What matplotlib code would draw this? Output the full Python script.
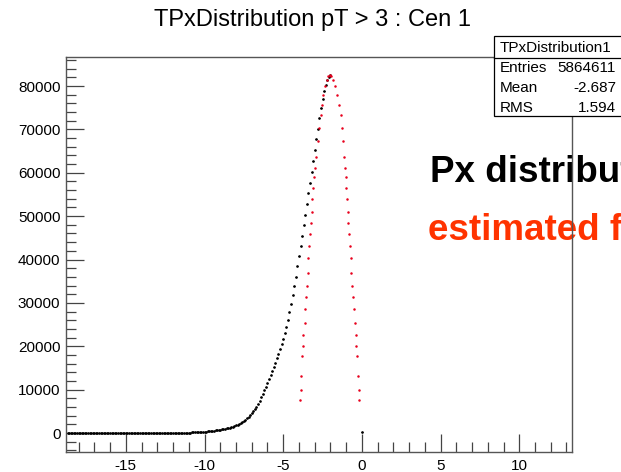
import numpy as np
import matplotlib
matplotlib.use("Agg")
import matplotlib.pyplot as plt
from matplotlib.patches import Rectangle
from matplotlib.lines import Line2D
from matplotlib.ticker import MultipleLocator

plt.rcParams["font.family"] = ["Liberation Sans", "DejaVu Sans"]
plt.rcParams["axes.unicode_minus"] = False

# ---- histogram contents (bin width 0.1, first bin centred at -18.7) ----
bin_width = 0.1
hist_lo = -18.7
hist_counts = [0] * 67 + [
    40, 45, 50, 55, 60, 65, 70, 78, 85, 92,                      # -12.0 .. -11.1
    100, 110, 120, 135, 150, 170, 190, 215, 240, 270,            # -11.0 .. -10.1
    300, 335, 370, 410, 450, 495, 540, 595, 650, 715,            # -10.0 .. -9.1
    780, 840, 900, 980, 1060, 1150, 1250, 1360, 1480, 1610,      # -9.0 .. -8.1
    1750, 1920, 2100, 2300, 2500, 2750, 3000, 3350, 3700, 4100,  # -8.0 .. -7.1
    4500, 5000, 5500, 6100, 6700, 7450, 8200, 9000, 9800, 10650,  # -7.0 .. -6.1
    11500, 12400, 13300, 14250, 15200, 16200, 17200, 18250, 19350, 20500,  # -6.0 .. -5.1
    21700, 23000, 24400, 26000, 27800, 29800, 31800, 33900, 36000, 38400,  # -5.0 .. -4.1
    40800, 43150, 45500, 47900, 50300, 52800, 55300, 57750, 60200, 62750,  # -4.0 .. -3.1
    65300, 67750, 70200, 72600, 75000, 76900, 78800, 80200, 81500, 82100,  # -3.0 .. -2.1
    82600,                                                                  # -2.0
]
spike_x = [0.0]
spike_counts = [250]

# ---- estimated curve ----
est_x = [
    -3.94, -3.89, -3.87, -3.83, -3.77, -3.73, -3.64, -3.60, -3.56, -3.51,
    -3.45, -3.41, -3.35, -3.28, -3.24, -3.19, -3.16, -3.09, -3.05, -3.00,
    -2.94, -2.77, -2.71, -2.62, -2.54, -2.46, -2.35, -2.24, -2.14, -2.03,
    -1.99, -1.86, -1.71, -1.57, -1.44, -1.35, -1.27, -1.23, -1.14, -1.10,
    -1.03, -1.00, -0.95, -0.91, -0.87, -0.83, -0.76, -0.72, -0.68, -0.63,
    -0.59, -0.53, -0.46, -0.38, -0.36, -0.30, -0.25, -0.21, -0.17,
]
est_y = [
    7600, 9900, 13100, 17700, 20000, 22600, 25300, 28500, 31400, 33900,
    36900, 40300, 43100, 45900, 48500, 50900, 54000, 56400, 59100, 61000,
    63700, 67300, 70300, 73400, 75700, 78000, 80000, 81500, 82300, 82500,
    82300, 81500, 80000, 78000, 75700, 73400, 70300, 67300, 63700, 61000,
    59100, 56400, 54000, 50900, 48500, 45900, 43100, 40300, 36900, 33900,
    31400, 28500, 25300, 22600, 20000, 17700, 13100, 9900, 7600,
]

# ---- stats box ----
stats_title = "TPxDistribution1"
stats_labels = ["Entries", "Mean", "RMS"]
stats_values = ["5864611", "-2.687", "1.594"]

W, H = 621, 472
fig = plt.figure(figsize=(W / 100, H / 100), dpi=100)
fig.patch.set_facecolor("white")


def fx(px):
    return px / W


def fy(py):
    return 1 - py / H


L, R, T, B = 66, 572, 57, 452
ax = fig.add_axes([fx(L), fy(B), fx(R) - fx(L), fy(T) - fy(B)])
ax.set_facecolor("none")

centers = np.arange(len(hist_counts)) * bin_width + hist_lo
ax.errorbar(centers, hist_counts, xerr=bin_width / 2, fmt="o", ms=0.9,
            color="black", ecolor="#333333", elinewidth=0.8, capsize=0,
            zorder=3)
ax.errorbar(spike_x, spike_counts, xerr=bin_width / 2, fmt="o", ms=0.9,
            color="black", ecolor="#333333", elinewidth=0.8, capsize=0,
            zorder=3)
ax.plot(est_x, est_y, linestyle="none", marker="o", ms=1.8,
        color="#e8001c", mec="none", zorder=4)

ax.set_xlim(-18.8, 13.35)
ax.set_ylim(-4380, 86690)

ax.xaxis.set_major_locator(MultipleLocator(5))
ax.xaxis.set_minor_locator(MultipleLocator(1))
ax.yaxis.set_major_locator(MultipleLocator(10000))
ax.yaxis.set_minor_locator(MultipleLocator(2000))
ax.tick_params(which="both", direction="in", top=False, right=False,
               color="#444444", width=0.9, labelsize=11)
ax.tick_params(which="major", length=13)
ax.tick_params(which="minor", length=7)
ax.tick_params(axis="y", pad=4)
ax.tick_params(axis="x", pad=5)

for s in ax.spines.values():
    s.set_color("#555555")
    s.set_linewidth(1.0)
    s.set_zorder(6)

fig.text(fx(313), fy(20), "TPxDistribution pT > 3 : Cen 1", ha="center",
         va="center", fontsize=17)

# overlay annotations
fig.text(fx(430), fy(173), "Px distribution", ha="left", va="center",
         fontsize=26.5, fontweight="bold", color="black", zorder=-1)
fig.text(fx(428), fy(230), "estimated f", ha="left", va="center",
         fontsize=26.5, fontweight="bold", color="#ff3300", zorder=-1)

# stats box
bx0, by0, by1 = 494, 36, 116
fig.add_artist(Rectangle((fx(bx0), fy(by1)), fx(660) - fx(bx0),
                         fy(by0) - fy(by1), transform=fig.transFigure,
                         facecolor="white", edgecolor="black", lw=0.9,
                         zorder=5))
fig.add_artist(Line2D([fx(bx0), fx(660)], [fy(58), fy(58)],
                      transform=fig.transFigure, color="black", lw=0.9,
                      zorder=6))
fig.text(fx(500), fy(47.5), stats_title, ha="left", va="center",
         fontsize=11, zorder=7)
for i, (lab, val) in enumerate(zip(stats_labels, stats_values)):
    yy = 68.5 + i * 19.5
    fig.text(fx(500), fy(yy), lab, ha="left", va="center", fontsize=11,
             zorder=7)
    fig.text(fx(616), fy(yy), val, ha="right", va="center", fontsize=11,
             zorder=7)

fig.savefig("out.png", dpi=100, facecolor="white")
